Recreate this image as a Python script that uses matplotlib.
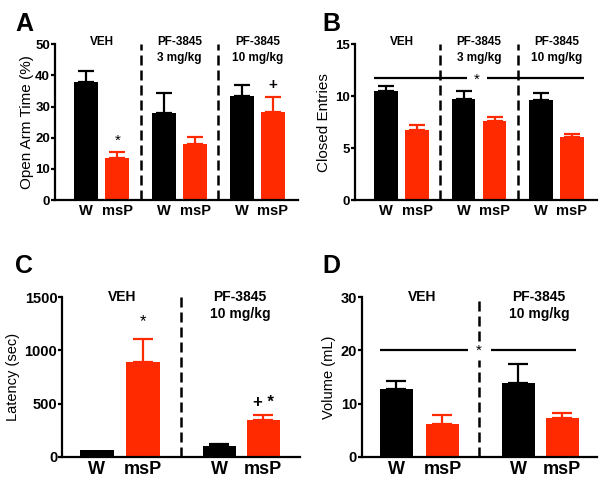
import matplotlib
matplotlib.use("Agg")
import matplotlib.pyplot as plt

plt.rcParams['font.family'] = ['Liberation Sans', 'DejaVu Sans']

BLACK = 'black'
RED = '#ff2a00'

# Panel A: open arm time (%)
a_vals = [37.8, 13.5, 27.8, 18.0, 33.3, 28.2]
a_err = [3.7, 2.0, 6.4, 2.2, 3.5, 5.0]
# Panel B: closed entries
b_vals = [10.5, 6.7, 9.7, 7.6, 9.6, 6.1]
b_err = [0.5, 0.5, 0.8, 0.4, 0.7, 0.3]
# Panel C: latency (sec)
c_vals = [62, 890, 100, 345]
c_err = [0, 220, 22, 45]
# Panel D: volume (mL)
d_vals = [12.8, 6.1, 13.8, 7.3]
d_err = [1.5, 1.8, 3.6, 0.9]

groups3 = ['VEH', 'PF-3845\n3 mg/kg', 'PF-3845\n10 mg/kg']
groups2 = ['VEH', 'PF-3845\n10 mg/kg']
xlabels3 = ['W', 'msP'] * 3
xlabels2 = ['W', 'msP'] * 2

fig = plt.figure(figsize=(6.04, 4.8), dpi=100)


def style_axes(ax, ymax, yticks, ylabel, xt_size, yt_size, yl_size, lpad):
    for s in ['top', 'right']:
        ax.spines[s].set_visible(False)
    for s in ['left', 'bottom']:
        ax.spines[s].set_linewidth(1.6)
    ax.set_ylim(0, ymax)
    ax.set_yticks(yticks)
    ax.tick_params(axis='y', width=1.6, length=3, labelsize=yt_size, pad=0.5)
    ax.tick_params(axis='x', length=0, labelsize=xt_size, pad=3)
    for lab in ax.get_yticklabels() + ax.get_xticklabels():
        lab.set_fontweight('bold')
    ax.set_ylabel(ylabel, fontsize=yl_size, labelpad=lpad)


def bars(ax, pos, vals, err, width, capsize):
    colors = [BLACK, RED] * (len(vals) // 2)
    for x, v, e, c in zip(pos, vals, err, colors):
        ax.bar(x, v, width=width, color=c, zorder=2)
        if e > 0:
            ax.errorbar(x, v, yerr=[[0], [e]], color=c, capsize=capsize,
                        elinewidth=1.6, capthick=1.6, zorder=3)


# ---- A ----
pos3 = [1, 2, 3.5, 4.5, 6, 7]
div3 = [2.75, 5.25]
axA = fig.add_axes([0.091, 0.583, 0.402, 0.325])
bars(axA, pos3, a_vals, a_err, 0.77, 5.5)
axA.set_xlim(0, 7.8)
axA.set_xticks(pos3)
axA.set_xticklabels(xlabels3)
style_axes(axA, 50, [0, 10, 20, 30, 40, 50], 'Open Arm Time (%)', 10.5, 9.5, 11, 1)
for d in div3:
    axA.axvline(d, color='black', lw=1.8, dashes=(4, 2), zorder=1)
for g, cx in zip(groups3, [1.5, 4.0, 6.5]):
    axA.text(cx, 1.05, g, transform=axA.get_xaxis_transform(), ha='center',
             va='top', fontsize=8.5, fontweight='bold', linespacing=1.35)
axA.text(2, 19.0, '*', ha='center', va='center', fontsize=11)
axA.text(7, 37.0, '+', ha='center', va='center', fontsize=11, fontweight='bold')

# ---- B ----
axB = fig.add_axes([0.588, 0.583, 0.4, 0.325])
bars(axB, pos3, b_vals, b_err, 0.77, 5.5)
axB.set_xlim(0, 7.8)
axB.set_xticks(pos3)
axB.set_xticklabels(xlabels3)
style_axes(axB, 15, [0, 5, 10, 15], 'Closed Entries', 10.5, 9.5, 11, 3)
for d in div3:
    axB.axvline(d, color='black', lw=1.8, dashes=(4, 2), zorder=1)
for g, cx in zip(groups3, [1.5, 4.0, 6.5]):
    axB.text(cx, 1.05, g, transform=axB.get_xaxis_transform(), ha='center',
             va='top', fontsize=8.5, fontweight='bold', linespacing=1.35)
axB.hlines(11.7, 0.6, 3.6, color='black', lw=1.6)
axB.hlines(11.7, 4.25, 7.4, color='black', lw=1.6)
axB.text(3.92, 11.6, '*', ha='center', va='center', fontsize=11)

# ---- C ----
pos2 = [0.75, 1.75, 3.4, 4.35]
axC = fig.add_axes([0.103, 0.048, 0.394, 0.333])
bars(axC, pos2, c_vals, c_err, 0.72, 7.5)
axC.set_xlim(0, 5.15)
axC.set_xticks(pos2)
axC.set_xticklabels(xlabels2)
style_axes(axC, 1500, [0, 500, 1000, 1500], 'Latency (sec)', 13, 10.5, 10.5, 3)
axC.axvline(2.57, color='black', lw=1.8, dashes=(4, 2), zorder=1)
for g, cx in zip(groups2, [1.3, 3.85]):
    axC.text(cx, 1.045, g, transform=axC.get_xaxis_transform(), ha='center',
             va='top', fontsize=10, fontweight='bold', linespacing=1.3)
axC.text(1.75, 1270, '*', ha='center', va='center', fontsize=12)
axC.text(4.35, 510, '+ *', ha='center', va='center', fontsize=12, fontweight='bold')

# ---- D ----
axD = fig.add_axes([0.599, 0.048, 0.389, 0.333])
bars(axD, pos2, d_vals, d_err, 0.72, 7.5)
axD.set_xlim(0, 5.1)
axD.set_xticks(pos2)
axD.set_xticklabels(xlabels2)
style_axes(axD, 30, [0, 10, 20, 30], 'Volume (mL)', 13, 10.5, 10.5, 3)
axD.vlines(2.54, 0, 18.2, color='black', lw=1.8, linestyles=(0, (4, 2)), zorder=1)
axD.vlines(2.54, 21.8, 30, color='black', lw=1.8, linestyles=(0, (4, 2)), zorder=1)
for g, cx in zip(groups2, [1.3, 3.85]):
    axD.text(cx, 1.045, g, transform=axD.get_xaxis_transform(), ha='center',
             va='top', fontsize=10, fontweight='bold', linespacing=1.3)
axD.hlines(20, 0.4, 2.3, color='black', lw=1.6)
axD.hlines(20, 2.8, 4.65, color='black', lw=1.6)
axD.text(2.54, 20, '*', ha='center', va='center', fontsize=11)

# panel letters
for lab, x, y in [('A', 0.025, 0.95), ('B', 0.533, 0.95),
                  ('C', 0.025, 0.445), ('D', 0.533, 0.445)]:
    fig.text(x, y, lab, fontsize=18, fontweight='bold', va='center')

fig.savefig('out.png', dpi=100)
